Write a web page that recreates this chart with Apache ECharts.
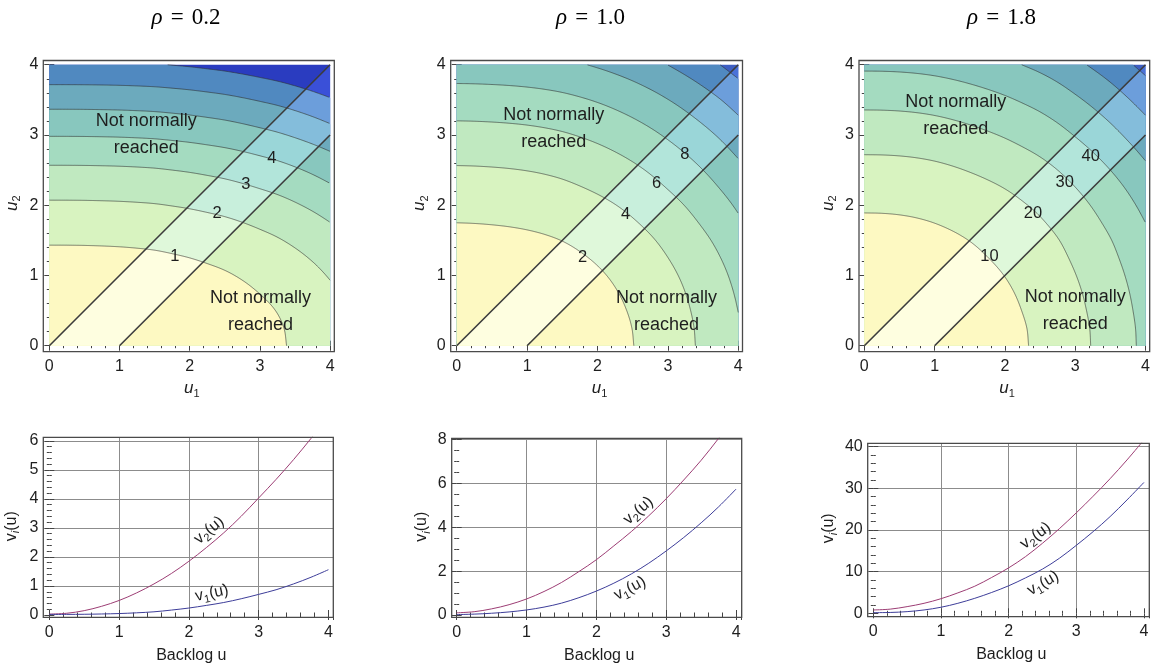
<!DOCTYPE html>
<html><head><meta charset="utf-8">
<script src="https://cdn.jsdelivr.net/npm/echarts@6/dist/echarts.min.js"></script>
<style>html,body{margin:0;padding:0;background:#fff}#c{width:1151px;height:671px}</style>
</head><body><div id="c"></div>
<script>
// ================= DATA =================
const rhoLabels = ['0.2', '1.0', '1.8'];
const backlog = [0, 0.25, 0.5, 0.75, 1, 1.25, 1.5, 1.75, 2, 2.25, 2.5, 2.75, 3, 3.25, 3.5, 3.75, 4];

const v1_rho02 = [0.02, 0.021, 0.025, 0.035, 0.05, 0.075, 0.11, 0.17, 0.24, 0.33, 0.43, 0.56, 0.71, 0.87, 1.07, 1.3, 1.56];
const v2_rho02 = [0.03, 0.06, 0.15, 0.3, 0.5, 0.76, 1.07, 1.43, 1.85, 2.32, 2.83, 3.4, 4.03, 4.67, 5.35, 6.08, 6.85];
const v1_rho10 = [0.02, 0.04, 0.08, 0.14, 0.23, 0.36, 0.54, 0.79, 1.09, 1.45, 1.87, 2.36, 2.92, 3.53, 4.2, 4.93, 5.74];
const v2_rho10 = [0.1, 0.15, 0.28, 0.47, 0.73, 1.07, 1.48, 1.98, 2.52, 3.15, 3.8, 4.52, 5.3, 6.15, 7.05, 8.05, 9.1];
const v1_rho18 = [0.15, 0.2, 0.4, 0.8, 1.45, 2.4, 3.6, 5.0, 6.6, 8.5, 10.6, 13.2, 16.3, 19.6, 23.2, 27.2, 31.4];
const v2_rho18 = [0.8, 1.0, 1.6, 2.4, 3.5, 4.9, 6.5, 8.6, 10.9, 13.6, 16.8, 20.3, 24.1, 28.1, 32.3, 36.8, 41.6];

const contourLevels_rho02 = [1, 2, 3, 4, 5, 6, 7];
const contourLevels_rho10 = [2, 4, 6, 8, 10, 12, 14];
const contourLevels_rho18 = [10, 20, 30, 40, 50, 60, 70];

const contourLabels_rho02 = ['1', '2', '3', '4'];
const contourLabels_rho10 = ['2', '4', '6', '8'];
const contourLabels_rho18 = ['10', '20', '30', '40'];

// boundary lines of the normally reached band (u2 = u1 and u2 = u1 - 1)
const diagonalUpper = [[0, 0], [4, 4]];
const diagonalLower = [[1, 0], [4, 3]];

const yTickStep = [1, 2, 10];
const notReachedText = 'Not normally\nreached';

// ================= ANNOTATION ANCHORS (data units) =================
const contourLabelAt_rho02 = [[1.79, 1.27], [2.39, 1.88], [2.80, 2.29], [3.17, 2.66]];
const contourLabelAt_rho10 = [[1.79, 1.26], [2.40, 1.87], [2.84, 2.31], [3.24, 2.72]];
const contourLabelAt_rho18 = [[1.78, 1.27], [2.40, 1.88], [2.85, 2.32], [3.22, 2.69]];
const notReachedAt_rho02 = [[1.38, 3.0], [3.01, 0.49]];
const notReachedAt_rho10 = [[1.38, 3.09], [2.98, 0.49]];
const notReachedAt_rho18 = [[1.30, 3.28], [3.0, 0.50]];
const curveLabelAt = [
  {v2: [2.29, 2.92], r2: 40, v1: [2.33, 0.75], r1: 12},
  {v2: [2.60, 4.75], r2: 41, v1: [2.48, 1.21], r1: 28},
  {v2: [2.40, 18.6], r2: 36, v1: [2.51, 7.2], r1: 30}
];

// ================= STYLE / LAYOUT =================
const FONT = '"Liberation Sans", Arial, sans-serif';
const SERIF = '"Liberation Serif", "DejaVu Serif", serif';
const INK = '#1e1e1e';
const TICK = '#444';
const GRIDC = '#8c8c8c';
const TR = 'rgba(0,0,0,0)';
const C_V1 = '#3d3d99';
const C_V2 = '#9c3d74';

const palOutBase = ['#fdf9c2', '#d8f3c0', '#c0e9c0', '#a4dbc0', '#88c7be', '#6caabd', '#5089c0'];
const palInBase = ['#fefee0', '#dff8da', '#c8efdc', '#b2e5da', '#9ad6d8', '#84bddb', '#6c9edb'];

const contourPanels = [
  {grid: {left: 49.3, top: 60.5, width: 285, height: 285.2}, offB: 6, offL: 6, max: 4.06,
   v1: v1_rho02, v2: v2_rho02, levels: contourLevels_rho02, labels: contourLabels_rho02,
   labelAt: contourLabelAt_rho02, nrAt: notReachedAt_rho02,
   out: palOutBase.concat(['#2a3cc0']), inn: palInBase.concat(['#3a50d8'])},
  {grid: {left: 456.7, top: 60.5, width: 285.8, height: 285.2}, offB: 6, offL: 6, max: 4.06,
   v1: v1_rho10, v2: v2_rho10, levels: contourLevels_rho10, labels: contourLabels_rho10,
   labelAt: contourLabelAt_rho10, nrAt: notReachedAt_rho10,
   out: palOutBase.concat(['#3d5ec2']), inn: palInBase.concat(['#4a72d8'])},
  {grid: {left: 864.3, top: 60.5, width: 285.4, height: 285.2}, offB: 6, offL: 5.3, max: 4.06,
   v1: v1_rho18, v2: v2_rho18, levels: contourLevels_rho18, labels: contourLabels_rho18,
   labelAt: contourLabelAt_rho18, nrAt: notReachedAt_rho18,
   out: palOutBase.concat(['#3d5ec2']), inn: palInBase.concat(['#4a72d8'])}
];
const linePanels = [
  {grid: {left: 49.3, top: 437.3, width: 284, height: 177.7}, offB: 2.3, offL: 6, xmax: 4.07, ymax: 6.12, ystep: yTickStep[0], yminor: 5, ynameGap: 22,
   v1: v1_rho02, v2: v2_rho02},
  {grid: {left: 456.7, top: 438.3, width: 285, height: 176.7}, offB: 2.3, offL: 5, xmax: 4.08, ymax: 8.05, ystep: yTickStep[1], yminor: 4, ynameGap: 20,
   v1: v1_rho10, v2: v2_rho10},
  {grid: {left: 873.3, top: 443.3, width: 276, height: 170}, offB: 3.3, offL: 5.6, xmax: 4.08, ymax: 40.8, ystep: yTickStep[2], yminor: 5, ynameGap: 29,
   v1: v1_rho18, v2: v2_rho18}
];
const titleX = [186, 590.5, 1001.5];

// ================= HELPERS =================
function monotone(xs, ys) {
  const n = xs.length, d = [], m = new Array(n);
  for (let i = 0; i < n - 1; i++) d.push((ys[i + 1] - ys[i]) / (xs[i + 1] - xs[i]));
  m[0] = d[0]; m[n - 1] = d[n - 2];
  for (let i = 1; i < n - 1; i++) m[i] = (d[i - 1] * d[i] <= 0) ? 0 : (d[i - 1] + d[i]) / 2;
  for (let i = 0; i < n - 1; i++) {
    if (d[i] === 0) { m[i] = 0; m[i + 1] = 0; continue; }
    const a = m[i] / d[i], b = m[i + 1] / d[i], s = a * a + b * b;
    if (s > 9) { const t = 3 / Math.sqrt(s); m[i] = t * a * d[i]; m[i + 1] = t * b * d[i]; }
  }
  return function (x) {
    if (x <= xs[0]) return ys[0];
    if (x >= xs[n - 1]) return ys[n - 1];
    let i = 0; while (i < n - 2 && x > xs[i + 1]) i++;
    const h = xs[i + 1] - xs[i], t = (x - xs[i]) / h, t2 = t * t, t3 = t2 * t;
    return (2 * t3 - 3 * t2 + 1) * ys[i] + (t3 - 2 * t2 + t) * h * m[i] + (-2 * t3 + 3 * t2) * ys[i + 1] + (t3 - t2) * h * m[i + 1];
  };
}
function rBox(th) { return 4 / Math.max(Math.cos(th), Math.sin(th)); }
function rBand(th) { const d = Math.cos(th) - Math.sin(th), rb = rBox(th); return d > 1e-9 ? Math.min(1 / d, rb) : rb; }
function rLevel(f, th, c, rmax) {
  const cs = Math.cos(th), sn = Math.sin(th);
  if (!isFinite(c) || f(rmax * cs, rmax * sn) <= c) return {r: rmax, inside: false};
  let lo = 0, hi = rmax;
  for (let k = 0; k < 40; k++) { const mid = (lo + hi) / 2; if (f(mid * cs, mid * sn) < c) lo = mid; else hi = mid; }
  return {r: (lo + hi) / 2, inside: true};
}
function buildContourItems(cp) {
  const f1 = monotone(backlog, cp.v1), f2 = monotone(backlog, cp.v2);
  const f = (a, b) => f1(a) + f2(b);
  const N = 480, n = cp.levels.length, items = [];
  const region = (c, thMax, steps, rfun) => {
    const pts = [[0, 0]];
    for (let i = 0; i <= steps; i++) {
      const th = thMax * i / steps, r = rLevel(f, th, c, rfun(th)).r;
      pts.push([r * Math.cos(th), r * Math.sin(th)]);
    }
    return pts;
  };
  items.push({kind: 'poly', pts: region(Infinity, Math.PI / 2, N, rBox), fill: cp.out[n]});
  items.push({kind: 'poly', pts: region(Infinity, Math.PI / 4, N / 2, rBand), fill: cp.inn[n]});
  for (let k = n; k >= 1; k--) {
    const c = cp.levels[k - 1];
    items.push({kind: 'poly', pts: region(c, Math.PI / 2, N, rBox), fill: cp.out[k - 1]});
    items.push({kind: 'poly', pts: region(c, Math.PI / 4, N / 2, rBand), fill: cp.inn[k - 1]});
  }
  cp.levels.forEach(c => {
    const pts = [];
    for (let i = 0; i <= N; i++) {
      const th = (Math.PI / 2) * i / N, res = rLevel(f, th, c, rBox(th));
      if (res.inside) pts.push([res.r * Math.cos(th), res.r * Math.sin(th)]);
    }
    if (pts.length > 1) items.push({kind: 'line', pts});
  });
  return items;
}
const intLabel = v => (Math.abs(v - Math.round(v)) < 1e-9 ? String(Math.round(v)) : '');
const subRich = (mainSize, italicMain) => ({
  a: {fontFamily: FONT, fontSize: mainSize, color: INK, fill: INK, lineHeight: 20, fontStyle: italicMain ? 'italic' : 'normal'},
  s: {fontFamily: FONT, fontSize: 11, color: INK, fill: INK, lineHeight: 10, padding: [10, 0, 0, 0]},
  si: {fontFamily: FONT, fontSize: 11, color: INK, fill: INK, lineHeight: 10, padding: [10, 0, 0, 0], fontStyle: 'italic'}
});

// ================= OPTION =================
const grids = [], xAxes = [], yAxes = [], series = [], graphics = [];
const tickCfg = {show: true, inside: true, length: 5, lineStyle: {color: TICK, width: 1}};
const minorCfg = n => ({show: true, splitNumber: n, length: 2.5, lineStyle: {color: TICK, width: 1}});
const labelCfg = (margin) => ({show: true, margin, fontSize: 16, fontFamily: FONT, color: INK, formatter: intLabel, showMaxLabel: false});

function addFrameAxes(gi, P, xmax, ymax, ystep, yminor, xname, yname, xGap, yGap, xSplit, ySplit) {
  const xi = xAxes.length, yi = yAxes.length;
  xAxes.push({gridIndex: gi, type: 'value', position: 'bottom', offset: P.offB, min: 0, max: xmax, interval: 1,
    axisLine: {show: false}, axisTick: tickCfg, minorTick: minorCfg(5), axisLabel: labelCfg(7),
    splitLine: xSplit, name: xname.text, nameLocation: 'middle', nameGap: xGap, nameMoveOverlap: false,
    nameTextStyle: {fontFamily: FONT, fontSize: 16, color: INK, rich: xname.rich}});
  xAxes.push({gridIndex: gi, type: 'value', position: 'top', min: 0, max: xmax, interval: 1,
    axisLine: {show: false}, axisTick: tickCfg, minorTick: minorCfg(5), axisLabel: {show: false}, splitLine: {show: false}});
  yAxes.push({gridIndex: gi, type: 'value', position: 'left', offset: P.offL, min: 0, max: ymax, interval: ystep,
    axisLine: {show: false}, axisTick: tickCfg, minorTick: minorCfg(yminor), axisLabel: labelCfg(5),
    splitLine: ySplit, name: yname.text, nameLocation: 'middle', nameRotate: 90, nameGap: yGap, nameMoveOverlap: false,
    nameTextStyle: {fontFamily: FONT, fontSize: 16, color: INK, rich: yname.rich}});
  yAxes.push({gridIndex: gi, type: 'value', position: 'right', min: 0, max: ymax, interval: ystep,
    axisLine: {show: false}, axisTick: tickCfg, minorTick: minorCfg(yminor), axisLabel: {show: false}, splitLine: {show: false}});
  graphics.push({type: 'rect', silent: true, z: 100,
    shape: {x: P.grid.left - P.offL, y: P.grid.top, width: P.grid.width + P.offL, height: P.grid.height + P.offB},
    style: {fill: 'none', stroke: '#4a4a4a', lineWidth: 1.3}});
  return {xi, yi};
}

// ---- contour panels ----
contourPanels.forEach((cp, p) => {
  const gi = grids.length;
  grids.push(Object.assign({outerBoundsMode: 'none', containLabel: false}, cp.grid));
  const ax = addFrameAxes(gi, cp, cp.max, cp.max, 1, 5,
    {text: '{a|u}{s|1}', rich: subRich(17, true)}, {text: '{a|u}{s|2}', rich: subRich(17, true)},
    27, 21, {show: false}, {show: false});
  const items = buildContourItems(cp);
  series.push({type: 'custom', xAxisIndex: ax.xi, yAxisIndex: ax.yi, silent: true, animation: false, clip: false,
    data: items.map(() => [0, 0]),
    renderItem: (params, api) => {
      const it = items[params.dataIndex];
      const pts = it.pts.map(q => api.coord(q));
      if (it.kind === 'poly') return {type: 'polygon', shape: {points: pts}, style: {fill: it.fill}};
      return {type: 'polyline', shape: {points: pts}, style: {stroke: 'rgba(45,45,45,0.6)', fill: null, lineWidth: 1}};
    }});
  [diagonalUpper, diagonalLower].forEach(seg => series.push({type: 'line', xAxisIndex: ax.xi, yAxisIndex: ax.yi,
    data: seg, symbol: 'none', silent: true, animation: false, lineStyle: {color: '#3c3c3c', width: 1.6}}));
  const texts = cp.labels.map((t, i) => ({text: t, at: cp.labelAt[i], size: 16.5, lh: 18}))
    .concat(cp.nrAt.map(at => ({text: notReachedText, at, size: 18, lh: 27})));
  series.push({type: 'custom', xAxisIndex: ax.xi, yAxisIndex: ax.yi, silent: true, animation: false, clip: false,
    data: texts.map(() => [0, 0]),
    renderItem: (params, api) => {
      const t = texts[params.dataIndex], q = api.coord(t.at);
      return {type: 'text', x: q[0], y: q[1], z2: 10,
        style: {text: t.text, fontFamily: FONT, fontSize: t.size, lineHeight: t.lh, fill: INK, align: 'center', verticalAlign: 'middle'}};
    }});
});

// ---- line panels ----
linePanels.forEach((lp, p) => {
  const gi = grids.length;
  grids.push(Object.assign({outerBoundsMode: 'none', containLabel: false}, lp.grid));
  const nY = Math.floor(lp.ymax / lp.ystep + 1e-9) + 2;
  const yCols = []; for (let i = 0; i < nY; i++) yCols.push(i === 0 || i === nY - 1 ? TR : GRIDC);
  const xSplit = {show: true, lineStyle: {color: [TR, GRIDC, GRIDC, GRIDC, TR, TR], width: 1}};
  const ySplit = {show: true, lineStyle: {color: yCols, width: 1}};
  const ax = addFrameAxes(gi, lp, lp.xmax, lp.ymax, lp.ystep, lp.yminor,
    {text: 'Backlog u', rich: {}}, {text: '{a|v}{si|i}{a|(u)}', rich: subRich(16, false)},
    30, lp.ynameGap, xSplit, ySplit);
  [[lp.v2, C_V2], [lp.v1, C_V1]].forEach(([vals, col]) => series.push({type: 'line', xAxisIndex: ax.xi, yAxisIndex: ax.yi,
    data: backlog.map((u, i) => [u, vals[i]]), symbol: 'none', smooth: 0.35, clip: true, silent: true, animation: false,
    lineStyle: {color: col, width: 1}}));
  const cl = curveLabelAt[p];
  const texts = [{text: '{a|v}{s|2}{a|(u)}', at: cl.v2, rot: cl.r2}, {text: '{a|v}{s|1}{a|(u)}', at: cl.v1, rot: cl.r1}];
  series.push({type: 'custom', xAxisIndex: ax.xi, yAxisIndex: ax.yi, silent: true, animation: false, clip: false,
    data: texts.map(() => [0, 0]),
    renderItem: (params, api) => {
      const t = texts[params.dataIndex], q = api.coord(t.at);
      return {type: 'text', x: q[0], y: q[1], rotation: t.rot * Math.PI / 180, z2: 10,
        style: {text: t.text, rich: subRich(16, false), fontFamily: FONT, fontSize: 16, fill: INK, align: 'center', verticalAlign: 'middle'}};
    }});
});

// ---- titles ----
rhoLabels.forEach((r, i) => graphics.push({type: 'text', x: titleX[i], y: 18, silent: true,
  style: {text: '{r|ρ}{e|=}{t|' + r + '}', align: 'center', verticalAlign: 'middle',
    rich: {r: {fontFamily: SERIF, fontStyle: 'italic', fontSize: 23, fill: '#000'},
           e: {fontFamily: SERIF, fontSize: 23, fill: '#000', padding: [0, 8, 0, 8]},
           t: {fontFamily: SERIF, fontSize: 23, fill: '#000'}}}}));

const chart = echarts.init(document.getElementById('c'), null, {renderer: 'canvas'});
chart.setOption({animation: false, backgroundColor: '#fff', grid: grids, xAxis: xAxes, yAxis: yAxes, series, graphic: graphics});
</script></body></html>
